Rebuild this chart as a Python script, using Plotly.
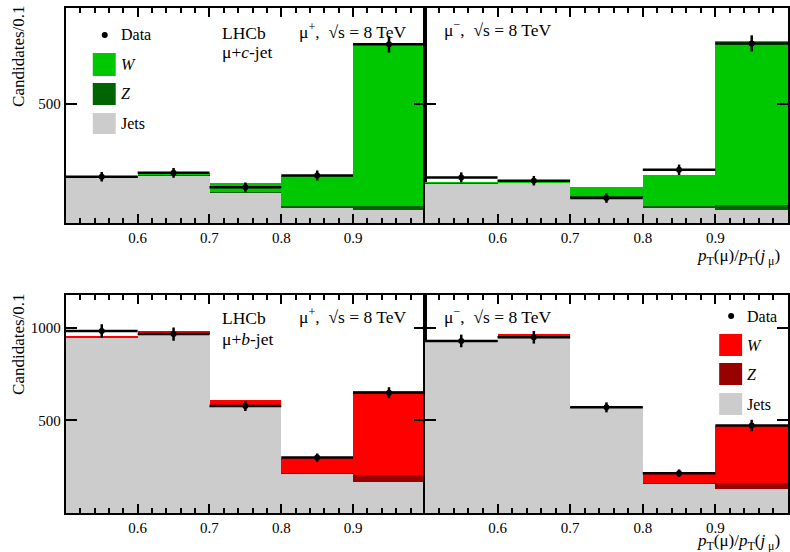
import plotly.graph_objects as go

# ---------------- data ----------------
bin_centers = [0.55, 0.65, 0.75, 0.85, 0.95]
bin_width = [0.1] * 5
half_width = [0.05] * 5
x_tick_vals = [0.6, 0.7, 0.8, 0.9]
x_tick_text = ["0.6", "0.7", "0.8", "0.9"]

# mu + c-jet, mu+
c_pos_jets = [193, 200, 128, 67, 56]
c_pos_z = [1, 1, 1, 3, 14]
c_pos_w = [2, 11, 39, 129, 686]
c_pos_data = [195, 211, 151, 200, 752]
c_pos_err = [20, 21, 19, 21, 34]

# mu + c-jet, mu-
c_neg_jets = [168, 171, 112, 67, 56]
c_neg_z = [1, 1, 1, 3, 21]
c_neg_w = [1, 6, 37, 130, 689]
c_neg_data = [192, 178, 105, 224, 756]
c_neg_err = [21, 20, 20, 22, 34]

# mu + b-jet, mu+
b_pos_jets = [946, 970, 579, 212, 169]
b_pos_z = [1, 2, 2, 3, 34]
b_pos_w = [3, 10, 29, 84, 453]
b_pos_data = [982, 965, 577, 299, 649]
b_pos_err = [36, 36, 27, 22, 30]

# mu + b-jet, mu-
b_neg_jets = [925, 948, 568, 158, 127]
b_neg_z = [1, 2, 1, 3, 36]
b_neg_w = [2, 16, 2, 54, 309]
b_neg_data = [928, 948, 570, 215, 472]
b_neg_err = [34, 34, 27, 20, 31]

top_y_ticks = [500]
bottom_y_ticks = [500, 1000]
top_y_range = [0, 905]
bottom_y_range = [0, 1176]

GREEN_W = "#00c800"
GREEN_Z = "#006400"
RED_W = "#ff0000"
RED_Z = "#990000"
GRAY = "#cccccc"
FONT = "Liberation Serif, Times New Roman, serif"

W, H = 790, 552


def px_x(p):
    return p / W


def px_y(p):
    return 1 - p / H


fig = go.Figure()

panels = [
    ("x", "y", c_pos_jets, c_pos_z, c_pos_w, c_pos_data, c_pos_err, GREEN_W, GREEN_Z),
    ("x2", "y2", c_neg_jets, c_neg_z, c_neg_w, c_neg_data, c_neg_err, GREEN_W, GREEN_Z),
    ("x3", "y3", b_pos_jets, b_pos_z, b_pos_w, b_pos_data, b_pos_err, RED_W, RED_Z),
    ("x4", "y4", b_neg_jets, b_neg_z, b_neg_w, b_neg_data, b_neg_err, RED_W, RED_Z),
]

for xa, ya, jets, z, w, data, err, wcol, zcol in panels:
    for vals, col in ((jets, GRAY), (z, zcol), (w, wcol)):
        fig.add_trace(go.Bar(
            x=bin_centers, y=vals, width=bin_width, xaxis=xa, yaxis=ya,
            marker=dict(color=col, line=dict(width=0)), showlegend=False,
            hoverinfo="skip",
        ))
    fig.add_trace(go.Scatter(
        x=bin_centers, y=data, xaxis=xa, yaxis=ya, mode="markers",
        marker=dict(color="black", size=6),
        error_y=dict(type="data", array=err, color="black", thickness=2.5, width=0),
        error_x=dict(type="data", array=half_width, color="black", thickness=2.5, width=0),
        showlegend=False,
    ))

# ---------------- axes ----------------
x_dom_left = [px_x(66), px_x(426)]
x_dom_right = [px_x(426), 1.0]
y_dom_top = [px_y(223), px_y(8)]
y_dom_bot = [px_y(513), px_y(295)]

xcommon = dict(
    range=[0.5, 1.0], tickvals=x_tick_vals, ticktext=x_tick_text,
    ticks="inside", ticklen=9, tickwidth=2, tickcolor="black",
    showline=True, linewidth=2, linecolor="black", mirror="allticks",
    showgrid=False, zeroline=False,
    minor=dict(dtick=0.02, tick0=0.5, ticks="inside", ticklen=5, tickwidth=1.5,
               tickcolor="black", showgrid=False),
    tickfont=dict(family=FONT, size=15, color="black"),
)
ycommon = dict(
    ticks="inside", ticklen=11, tickwidth=2, tickcolor="black",
    showline=True, linewidth=2, linecolor="black", mirror="allticks",
    showgrid=False, zeroline=False,
    tickfont=dict(family=FONT, size=15, color="black"),
)

fig.update_layout(
    xaxis=dict(domain=x_dom_left, anchor="y", **xcommon),
    xaxis2=dict(domain=x_dom_right, anchor="y2", **xcommon),
    xaxis3=dict(domain=x_dom_left, anchor="y3", **xcommon),
    xaxis4=dict(domain=x_dom_right, anchor="y4", **xcommon),
    yaxis=dict(domain=y_dom_top, anchor="x", range=top_y_range, tickvals=top_y_ticks, **ycommon),
    yaxis2=dict(domain=y_dom_top, anchor="x2", range=top_y_range, tickvals=top_y_ticks,
                showticklabels=False, **ycommon),
    yaxis3=dict(domain=y_dom_bot, anchor="x3", range=bottom_y_range, tickvals=bottom_y_ticks, **ycommon),
    yaxis4=dict(domain=y_dom_bot, anchor="x4", range=bottom_y_range, tickvals=bottom_y_ticks,
                showticklabels=False, **ycommon),
    barmode="stack", bargap=0,
    width=W, height=H, margin=dict(l=0, r=0, t=0, b=0),
    paper_bgcolor="white", plot_bgcolor="white",
    font=dict(family=FONT, color="black"),
)

# ---------------- text ----------------
ann = []


def text(x, y, s, size=16, xanchor="left", yanchor="middle", angle=0):
    ann.append(dict(x=px_x(x), y=px_y(y), xref="paper", yref="paper", text=s,
                    showarrow=False, xanchor=xanchor, yanchor=yanchor, textangle=angle,
                    borderpad=0,
                    font=dict(family=FONT, size=size, color="black")))


# y titles
text(18, 4, "Candidates/0.1", size=17, xanchor="center", yanchor="top", angle=-90)
text(18, 292, "Candidates/0.1", size=17, xanchor="center", yanchor="top", angle=-90)
# x titles
xtitle = "<i>p</i><sub>T</sub>(μ)/<i>p</i><sub>T</sub>(<i>j</i><sub> μ</sub>)"
text(783, 257, xtitle, size=17, xanchor="right")
text(783, 542, xtitle, size=17, xanchor="right")

# panel labels
text(222, 33, "LHCb", size=17.5)
text(222, 52, "μ+<i>c</i>-jet", size=17.5)
text(299, 31, "μ<sup>+</sup>,  √s = 8 TeV", size=17.5)
text(444, 29, "μ<sup>−</sup>,  √s = 8 TeV", size=17.5)
text(222, 318, "LHCb", size=17.5)
text(222, 339, "μ+<i>b</i>-jet", size=17.5)
text(299, 316, "μ<sup>+</sup>,  √s = 8 TeV", size=17.5)
text(444, 316, "μ<sup>−</sup>,  √s = 8 TeV", size=17.5)

# legends
shapes = []


def legend(x0, ydata, yboxes, wcol, zcol):
    shapes.append(dict(type="circle", xref="paper", yref="paper",
                       x0=px_x(x0 + 9), x1=px_x(x0 + 15), y0=px_y(ydata + 3), y1=px_y(ydata - 3),
                       fillcolor="black", line=dict(width=0)))
    text(x0 + 27, ydata, "Data", size=16)
    labels = ["<i>W</i>", "<i>Z</i>", "Jets"]
    cols = [wcol, zcol, GRAY]
    for (yt, yb), lab, col in zip(yboxes, labels, cols):
        shapes.append(dict(type="rect", xref="paper", yref="paper",
                           x0=px_x(x0), x1=px_x(x0 + 23), y0=px_y(yb), y1=px_y(yt),
                           fillcolor=col, line=dict(width=0)))
        text(x0 + 27, (yt + yb) / 2, lab, size=16)


legend(93, 35, [(53, 76), (83, 105), (113, 134)], GREEN_W, GREEN_Z)
legend(721, 316, [(334, 356), (363, 385), (393, 415)], RED_W, RED_Z)

fig.update_layout(annotations=ann, shapes=shapes)

fig.write_html(
    "out.html",
    config={"displayModeBar": False},
    post_script="document.body.style.margin='0';document.body.style.overflow='hidden';",
)
